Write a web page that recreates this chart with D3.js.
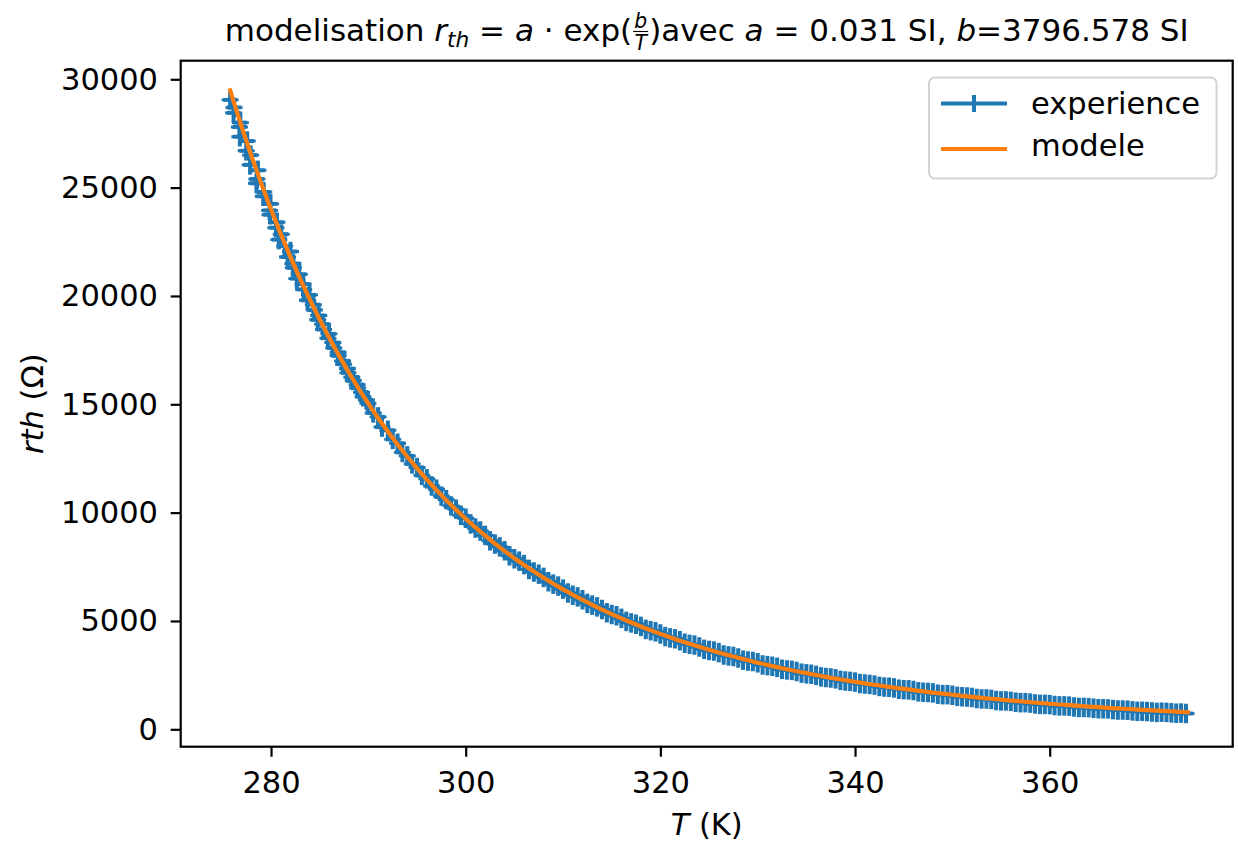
<!DOCTYPE html>
<html>
<head>
<meta charset="utf-8">
<script src="https://cdn.jsdelivr.net/npm/d3@7"></script>
<style>
  html, body { margin: 0; padding: 0; background: #fff; }
  svg { display: block; font-family: "DejaVu Sans", sans-serif; }
</style>
</head>
<body>
<svg id="chart" width="1238" height="842"></svg>
<script>
// ---------------- data ----------------
const T_exp = [275.80,276.20,276.15,276.85,276.75,276.80,277.55,277.45,277.90,277.85,278.65,278.55,278.50,279.25,279.20,279.95,279.85,279.90,280.60,280.50,
  281.05,280.80,281.40,282.00,281.70,282.25,282.30,282.90,282.65,283.30,283.35,283.95,283.75,284.35,284.45,284.90,284.80,285.30,285.40,285.95,
  285.85,286.35,286.45,286.90,286.90,287.35,287.45,287.85,287.90,288.30,288.45,288.85,288.90,289.30,289.45,289.80,289.95,
  290.5,291.0,291.4,292.0,292.5,293.0,293.5,294.0,294.5,295.0,
  295.5,296.0,296.5,297.0,297.5,298.0,298.5,299.0,299.5,300.0,
  300.5,301,301.5,302,302.5,303,303.5,304,304.5,305,305.5,306,306.5,307,307.5,308,308.5,309,309.5,310,
  310.5,311,311.5,312,312.5,313,313.5,314,314.5,315,315.5,316,316.5,317,317.5,318,318.5,319,319.5,320,
  320.5,321,321.5,322,322.5,323,323.5,324,324.5,325,325.5,326,326.5,327,327.5,328,328.5,329,329.5,330,
  330.5,331,331.5,332,332.5,333,333.5,334,334.5,335,335.5,336,336.5,337,337.5,338,338.5,339,339.5,340,
  340.5,341,341.5,342,342.5,343,343.5,344,344.5,345,345.5,346,346.5,347,347.5,348,348.5,349,349.5,350,
  350.5,351,351.5,352,352.5,353,353.5,354,354.5,355,355.5,356,356.5,357,357.5,358,358.5,359,359.5,360,
  360.5,361,361.5,362,362.5,363,363.5,364,364.5,365,365.5,366,366.5,367,367.5,368,368.5,369,369.5,370,
  370.5,371,371.5,372,372.5,373,373.5,374];
const R_exp = [29050,28700,28450,28000,27800,27350,27150,26700,26500,26050,25800,25400,25200,24800,24600,24250,23950,23750,23400,23150,
  22850,22600,22300,22050,21800,21500,21300,21000,20800,20550,20300,20050,19800,19600,19350,19100,18900,18700,18450,18250,
  18050,17850,17600,17400,17250,17000,16850,16650,16450,16250,16100,15900,15750,15550,15350,15200,15050,
  14600,14420,13950,13800,13380,13200,12780,12620,12250,12080,
  11720,11560,11230,11080,10760,10600,10310,10160,9880,9740,
  9480,9290,9150,8950,8700,8550,8420,8240,8010,7870,7760,7600,7380,7260,7160,7010,6810,6700,6610,6470,
  6290,6190,6110,5980,5810,5730,5650,5530,5380,5300,5240,5120,4980,4910,4850,4750,4610,4550,4500,4400,
  4280,4220,4180,4090,3970,3920,3890,3800,3690,3640,3610,3540,3430,3390,3360,3290,3190,3150,3130,3070,
  2970,2940,2910,2860,2770,2740,2720,2670,2590,2560,2540,2490,2420,2390,2370,2330,2260,2230,2210,2180,
  2110,2090,2070,2040,1980,1950,1940,1910,1850,1830,1820,1790,1730,1710,1700,1680,1620,1600,1600,1570,
  1520,1500,1490,1470,1420,1400,1400,1380,1330,1310,1310,1290,1250,1230,1230,1210,1170,1150,1150,1140,
  1100,1080,1080,1070,1030,1010,1010,1000,970,950,950,940,910,890,890,880,850,830,830,820,
  800,780,790,780,760,740,750,730];
const T_err = 0.7;   // K
const R_err = 450;   // ohm

const T_mod = [275.8,276,277,278,279,280,281,282,283,284,285,286,287,288,289,290,291,292,293,294,295,296,297,298,299,300,
  301,302,303,304,305,306,307,308,309,310,311,312,313,314,315,316,317,318,319,320,321,322,323,324,325,326,327,328,329,330,
  331,332,333,334,335,336,337,338,339,340,341,342,343,344,345,346,347,348,349,350,351,352,353,354,355,356,357,358,359,360,
  361,362,363,364,365,366,367,368,369,370,371,372,373,374,374.2];
const R_mod = [29493,29201,27786,26449,25186,23991,22861,21791,20779,19820,18912,18052,17236,16462,15727,15031,14370,13742,13145,12579,12040,11528,11040,10577,10136,9716,
  9316,8935,8571,8225,7895,7581,7280,6994,6720,6459,6210,5972,5744,5526,5318,5119,4929,4747,4572,4405,4245,4092,3946,3805,3670,3541,3417,3298,3184,3075,
  2970,2869,2772,2679,2590,2504,2421,2342,2266,2192,2122,2054,1988,1925,1865,1806,1750,1696,1644,1593,1545,1498,1453,1410,1368,1327,1288,1250,1214,1179,
  1145,1112,1080,1050,1020,992,964,937,911,886,862,839,816,794,790];

const xTicks = [280, 300, 320, 340, 360];
const yTicks = [0, 5000, 10000, 15000, 20000, 25000, 30000];
const seriesNames = ["experience", "modele"];

// ---------------- layout ----------------
const BLUE = "#1f77b4", ORANGE = "#ff7f0e";
const FS = 30.5;
const L = 180.7, R = 1232.7, TOP = 60.7, BOT = 746.7;
const svg = d3.select("#chart");

const x = d3.scaleLinear().domain([270.72, 378.8]).range([L, R]);
const y = d3.scaleLinear().domain([-803, 30858]).range([BOT, TOP]);

// ---------------- data marks ----------------
const exp = T_exp.map((t, i) => ({t, r: R_exp[i]}));
const gData = svg.append("g").attr("stroke", BLUE).attr("fill", "none");
gData.selectAll("line.xe").data(exp).enter().append("line")
  .attr("x1", d => x(d.t - T_err)).attr("x2", d => x(d.t + T_err))
  .attr("y1", d => y(d.r)).attr("y2", d => y(d.r)).attr("stroke-width", 4);
gData.selectAll("line.ye").data(exp).enter().append("line")
  .attr("x1", d => x(d.t)).attr("x2", d => x(d.t))
  .attr("y1", d => y(d.r - R_err)).attr("y2", d => y(d.r + R_err)).attr("stroke-width", 4);
gData.selectAll("path.mk").data(exp).enter().append("path")
  .attr("d", d => { const cx = x(d.t), cy = y(d.r);
    return `M${cx-8.5},${cy}H${cx+8.5}M${cx},${cy-8.5}V${cy+8.5}`; })
  .attr("stroke-width", 2.9);

// model line
const mod = T_mod.map((t, i) => ({t, r: R_mod[i]}));
svg.append("path").datum(mod)
  .attr("d", d3.line().x(d => x(d.t)).y(d => y(d.r)))
  .attr("fill", "none").attr("stroke", ORANGE).attr("stroke-width", 4.2)
  .attr("stroke-linecap", "square").attr("stroke-linejoin", "round");

// ---------------- axes ----------------
const xAxis = svg.append("g").attr("transform", `translate(0,${BOT})`)
  .call(d3.axisBottom(x).tickValues(xTicks).tickSize(10).tickPadding(14.5).tickFormat(d3.format("d")));
const yAxis = svg.append("g").attr("transform", `translate(${L},0)`)
  .call(d3.axisLeft(y).tickValues(yTicks).tickSize(10).tickPadding(12.7).tickFormat(d3.format("d")));
[xAxis, yAxis].forEach(a => {
  a.select(".domain").remove();
  a.selectAll(".tick line").attr("stroke", "#000").attr("stroke-width", 2.2);
  a.selectAll(".tick text").attr("fill", "#000").style("font-size", FS + "px")
    .style("font-family", "DejaVu Sans");
});

// frame
svg.append("rect").attr("x", L).attr("y", TOP).attr("width", R - L).attr("height", BOT - TOP)
  .attr("fill", "none").attr("stroke", "#000").attr("stroke-width", 2.2);

// axis labels
const xl = svg.append("text").attr("x", (L + R) / 2).attr("y", 835).attr("text-anchor", "middle")
  .style("font-size", FS + "px");
xl.append("tspan").style("font-style", "italic").text("T");
xl.append("tspan").text(" (K)");

const yl = svg.append("text").attr("transform", `translate(43,${(TOP + BOT) / 2}) rotate(-90)`)
  .attr("text-anchor", "middle").style("font-size", FS + "px");
yl.append("tspan").style("font-style", "italic").text("rth");
yl.append("tspan").text(" (Ω)");

// ---------------- title ----------------
const TFS = 31;
const gT = svg.append("g");
let cur = 0;
const base = 41;
function seg(txt, opt = {}) {
  const t = gT.append("text").attr("x", cur).attr("y", base + (opt.dy || 0))
    .style("font-size", (opt.size || TFS) + "px").style("white-space", "pre")
    .attr("xml:space", "preserve")
    .style("font-style", opt.italic ? "italic" : "normal").text(txt);
  cur += t.node().getComputedTextLength() + (opt.after || 0);
  return t;
}
seg("modelisation ");
seg("r", {italic: true});
seg("th", {italic: true, size: TFS * 0.7, dy: 6});
seg(" = ");
seg("a", {italic: true});
seg(" · ");
seg("exp(");
{
  const fs = TFS * 0.66;
  const nb = gT.append("text").attr("y", base - 13).style("font-size", fs + "px")
    .style("font-style", "italic").attr("text-anchor", "middle").text("b");
  const dt = gT.append("text").attr("y", base + 9).style("font-size", fs + "px")
    .style("font-style", "italic").attr("text-anchor", "middle").text("T");
  const w = Math.max(nb.node().getComputedTextLength(), dt.node().getComputedTextLength()) + 4;
  nb.attr("x", cur + w / 2); dt.attr("x", cur + w / 2);
  gT.append("line").attr("x1", cur + 1).attr("x2", cur + w - 1)
    .attr("y1", base - 9.5).attr("y2", base - 9.5).attr("stroke", "#000").attr("stroke-width", 1.1);
  cur += w;
}
seg(")avec ");
seg("a", {italic: true});
seg(" = 0.031 SI, ");
seg("b", {italic: true});
seg("=3796.578 SI");
gT.attr("transform", `translate(${(L + R) / 2 - cur / 2},0)`);

// ---------------- legend ----------------
const lg = svg.append("g");
lg.append("rect").attr("x", 929).attr("y", 77.5).attr("width", 287.5).attr("height", 101)
  .attr("rx", 6).attr("fill", "#fff").attr("fill-opacity", 0.8)
  .attr("stroke", "#d3d3d3").attr("stroke-width", 2);
lg.append("line").attr("x1", 941).attr("x2", 1007).attr("y1", 103.5).attr("y2", 103.5)
  .attr("stroke", BLUE).attr("stroke-width", 4.2);
lg.append("line").attr("x1", 974).attr("x2", 974).attr("y1", 95).attr("y2", 112)
  .attr("stroke", BLUE).attr("stroke-width", 4);
lg.append("line").attr("x1", 941).attr("x2", 1007).attr("y1", 149).attr("y2", 149)
  .attr("stroke", ORANGE).attr("stroke-width", 4.2);
lg.append("text").attr("x", 1031).attr("y", 114).style("font-size", FS + "px").text(seriesNames[0]);
lg.append("text").attr("x", 1031).attr("y", 156).style("font-size", FS + "px").text(seriesNames[1]);
</script>
</body>
</html>
